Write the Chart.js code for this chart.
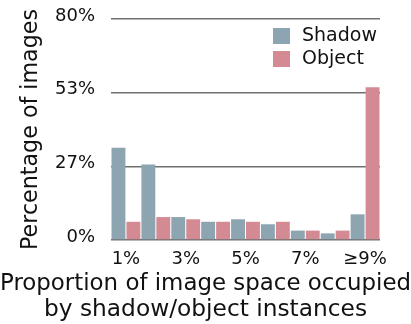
<!DOCTYPE html>
<html>
<head>
<meta charset="utf-8">
<script src="https://cdn.jsdelivr.net/npm/chart.js@4"></script>
<style>
  html, body { margin: 0; padding: 0; background: #fff; }
  #wrap { width: 411px; height: 324px; }
</style>
</head>
<body>
<div id="wrap"><canvas id="myChart" width="411" height="324"></canvas></div>
<script>
// Data
const categories = ['1%', '2%', '3%', '4%', '5%', '6%', '7%', '8%', '≥9%'];
const shadowValues = [33.4, 27.3, 8.3, 6.6, 7.5, 5.7, 3.4, 2.4, 9.3];
const objectValues = [6.6, 8.3, 7.5, 6.6, 6.6, 6.6, 3.4, 3.4, 55.3];
const yTicks = [0, 80 / 3, 160 / 3, 80];

const FONT = '"DejaVu Sans", sans-serif';

// Legend drawn inside the plot area, top right
const legendInside = {
    id: 'legendInside',
    afterDraw(chart) {
        const c = chart.ctx;
        c.save();
        c.font = '19px ' + FONT;
        c.textBaseline = 'middle';
        chart.data.datasets.forEach((ds, i) => {
            const y = 28 + i * 23;
            c.fillStyle = ds.backgroundColor;
            c.fillRect(273, y, 17, 16);
            c.fillStyle = '#111';
            c.fillText(ds.label, 302, y + 8);
        });
        c.restore();
    }
};

const ctx = document.getElementById('myChart').getContext('2d');

let myChart = new Chart(ctx, {
    type: 'bar',
    data: {
        labels: categories,
        datasets: [{
            label: 'Shadow',
            data: shadowValues,
            backgroundColor: '#8da4b1',
            borderWidth: 0
        }, {
            label: 'Object',
            data: objectValues,
            backgroundColor: '#d48a93',
            borderWidth: 0
        }]
    },
    options: {
        responsive: false,
        animation: false,
        layout: { padding: { top: 19, right: 0, left: 0, bottom: 0 } },
        datasets: {
            bar: { categoryPercentage: 1.0, barPercentage: 0.93 }
        },
        plugins: {
            legend: { display: false },
            tooltip: { enabled: false },
            title: {
                display: true,
                position: 'bottom',
                text: ['Proportion of image space occupied', 'by shadow/object instances'],
                color: '#111',
                font: { family: FONT, size: 23.3, weight: 'normal', lineHeight: '26px' },
                padding: { top: 1, bottom: 1 }
            }
        },
        scales: {
            x: {
                grid: { display: false, drawTicks: false },
                border: { display: false },
                ticks: {
                    autoSkip: false,
                    maxRotation: 0,
                    padding: 9,
                    color: '#111',
                    font: { family: FONT, size: 18 },
                    callback: function(value, index) {
                        return index % 2 === 0 ? this.getLabelForValue(value) : '';
                    }
                },
                afterFit: function(scale) { scale.height = 30; }
            },
            y: {
                min: 0,
                max: 80,
                afterBuildTicks: function(scale) {
                    scale.ticks = yTicks.map(v => ({ value: v }));
                },
                grid: { color: '#707070', lineWidth: 1.5, drawTicks: true, tickLength: 16, tickColor: 'rgba(0,0,0,0)' },
                border: { display: false },
                ticks: {
                    padding: 0,
                    labelOffset: -3,
                    color: '#111',
                    font: { family: FONT, size: 18 },
                    callback: v => Math.round(v) + '%'
                },
                title: {
                    display: true,
                    text: 'Percentage of images',
                    color: '#111',
                    font: { family: FONT, size: 22.2 },
                    padding: { top: 18, bottom: 0 }
                },
                afterFit: function(scale) { scale.width = 111; }
            },
            // empty right axis, only keeps space on the right of the plot
            yRight: {
                position: 'right',
                min: 0,
                max: 80,
                grid: { display: false },
                border: { display: false },
                ticks: { display: false },
                afterFit: function(scale) { scale.width = 31; }
            }
        }
    },
    plugins: [legendInside]
});
</script>
</body>
</html>
